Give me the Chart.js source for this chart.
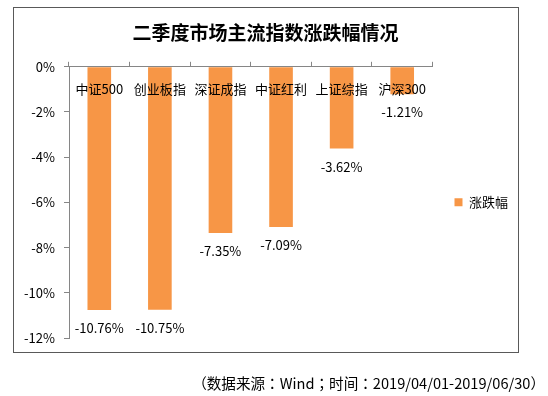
<!DOCTYPE html>
<html>
<head>
<meta charset="utf-8">
<script src="https://cdn.jsdelivr.net/npm/chart.js@4.4.1/dist/chart.umd.min.js"></script>
<style>
  html, body { margin: 0; padding: 0; background: #fff; }
  #wrap { width: 548px; height: 396px; }
</style>
</head>
<body>
<div id="wrap"><canvas id="chart"></canvas></div>
<script>
// 二季度市场主流指数涨跌幅 (%)
var categories = ['中证500', '创业板指', '深证成指', '中证红利', '上证综指', '沪深300'];
var changes = [-10.76, -10.75, -7.35, -7.09, -3.62, -1.21];
var seriesName = '涨跌幅';
var titleText = '二季度市场主流指数涨跌幅情况';
var sourceText = '（数据来源：Wind；时间：2019/04/01-2019/06/30）';

var FONT = '"Noto Sans CJK SC", "Noto Sans", sans-serif';
var axisGray = '#868686';
Chart.defaults.font.family = FONT;
Chart.defaults.font.size = 13;
Chart.defaults.color = '#000';

// frame, category names, value labels and the source line
var extras = {
  id: 'extras',
  afterDatasetsDraw: function(chart) {
    var ctx = chart.ctx;
    var area = chart.chartArea;
    var x = chart.scales.x;
    ctx.save();
    ctx.font = '13px ' + FONT;
    ctx.fillStyle = '#000';
    ctx.textAlign = 'center';
    ctx.textBaseline = 'middle';
    categories.forEach(function(c, i) {
      ctx.fillText(c, x.getPixelForValue(i), area.top + 22);
    });
    chart.getDatasetMeta(0).data.forEach(function(bar, i) {
      ctx.fillText(changes[i].toFixed(2) + '%', bar.x, bar.y + 18);
    });
    ctx.restore();
  },
  afterDraw: function(chart) {
    var ctx = chart.ctx;
    ctx.save();
    ctx.strokeStyle = '#595959';
    ctx.lineWidth = 1;
    ctx.strokeRect(13.5, 7.5, 505, 345);
    // TC face keeps the full-width colons centred, as in the source
    ctx.font = '14.6px "Noto Sans CJK TC", ' + FONT;
    ctx.fillStyle = '#000';
    ctx.textAlign = 'right';
    ctx.textBaseline = 'middle';
    ctx.fillText(sourceText, 545, 383);
    ctx.restore();
  }
};

new Chart(document.getElementById('chart'), {
  type: 'bar',
  data: {
    labels: categories,
    datasets: [{
      label: seriesName,
      data: changes,
      backgroundColor: '#F79646',
      borderWidth: 0,
      categoryPercentage: 1,
      barPercentage: 0.39
    }]
  },
  options: {
    responsive: true,
    maintainAspectRatio: false,
    animation: false,
    layout: { padding: { left: 13, right: 30, top: 7, bottom: 58 } },
    plugins: {
      title: {
        display: true,
        text: titleText,
        color: '#000',
        font: { size: 19, weight: 'bold', family: FONT },
        padding: { top: 14, bottom: 18 }
      },
      legend: {
        position: 'right',
        // empty title only pushes the centred item down to the plot middle
        title: { display: true, text: '', padding: { top: 44, bottom: 0 } },
        labels: { boxWidth: 8, boxHeight: 8, padding: 22, color: '#000', font: { size: 13 } }
      },
      tooltip: { enabled: false }
    },
    scales: {
      x: {
        position: 'top',
        ticks: { display: false },
        grid: { drawOnChartArea: false, tickLength: 5, color: axisGray, offset: true },
        border: { color: axisGray },
        afterFit: function(s) { s.height = 5; }
      },
      y: {
        min: -12,
        max: 0,
        ticks: {
          stepSize: 2,
          padding: 9,
          color: '#000',
          callback: function(v) { return v + '%'; }
        },
        grid: { drawOnChartArea: false, tickLength: 5, color: axisGray },
        border: { color: axisGray },
        afterFit: function(s) { s.width = 56; }
      }
    }
  },
  plugins: [extras]
});
</script>
</body>
</html>
